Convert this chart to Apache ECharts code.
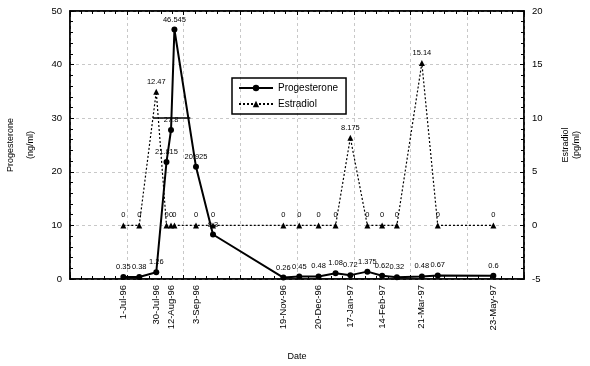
<!DOCTYPE html>
<html>
<head>
<meta charset="utf-8">
<title>Progesterone and Estradiol</title>
<script src="https://cdn.jsdelivr.net/npm/echarts@6/dist/echarts.min.js"></script>
<style>
  html, body { margin: 0; padding: 0; background: #fff; }
  #chart { width: 590px; height: 366px; }
</style>
</head>
<body>
<div id="chart"></div>
<script>
// sampling dates and hormone levels
const sampleDates = [
  '1996-07-01', '1996-07-15', '1996-07-30', '1996-08-08', '1996-08-12',
  '1996-08-15', '1996-09-03', '1996-09-18', '1996-11-19', '1996-12-03',
  '1996-12-20', '1997-01-04', '1997-01-17', '1997-02-01', '1997-02-14',
  '1997-02-27', '1997-03-21', '1997-04-04', '1997-05-23'
]
const progesterone = [
  0.35, 0.38, 1.26, 21.815, 27.8,
  46.545, 20.925, 8.3, 0.26, 0.45,
  0.48, 1.08, 0.72, 1.375, 0.62,
  0.32, 0.48, 0.67, 0.6
]
const estradiol = [
  0, 0, 12.47, 0, 0,
  0, 0, 0, 0, 0,
  0, 0, 8.175, 0, 0,
  0, 15.14, 0, 0
]
// dates printed under the x axis
const tickDates = [
  '1996-07-01', '1996-07-30', '1996-08-12', '1996-09-03', '1996-11-19',
  '1996-12-20', '1997-01-17', '1997-02-14', '1997-03-21', '1997-05-23'
]
// solid bar drawn at estradiol 10
const bar10 = ['1996-07-27', '1996-08-29']

const MONTHS = ['Jan', 'Feb', 'Mar', 'Apr', 'May', 'Jun', 'Jul', 'Aug', 'Sep', 'Oct', 'Nov', 'Dec']

// excel style day number
function serial(s) {
  const p = s.split('-').map(Number)
  return Date.UTC(p[0], p[1] - 1, p[2]) / 86400000 + 25569
}
function dateLabel(v) {
  const d = new Date((v - 25569) * 86400000)
  const yy = String(d.getUTCFullYear()).slice(2)
  return d.getUTCDate() + '-' + MONTHS[d.getUTCMonth()] + '-' + yy
}

const font = 'Liberation Sans, Arial, sans-serif'
const X_MIN = 35200
const X_MAX = 35600

const progData = sampleDates.map((d, i) => [serial(d), progesterone[i]])
const estrData = sampleDates.map((d, i) => [serial(d), estradiol[i]])

const chart = echarts.init(document.getElementById('chart'))

chart.setOption({
  animation: false,
  textStyle: { fontFamily: font, color: '#000' },
  grid: {
    left: 70,
    right: 66,
    top: 11,
    bottom: 87,
    outerBoundsMode: 'none',
    show: true,
    borderColor: '#000',
    borderWidth: 1.5
  },
  legend: {
    orient: 'vertical',
    left: 232,
    top: 78,
    width: 96,
    borderColor: '#000',
    borderWidth: 1.5,
    padding: [5, 8, 5, 6],
    itemGap: 6,
    itemWidth: 34,
    itemHeight: 8,
    textStyle: { fontSize: 10, fontFamily: font, color: '#000' },
    data: ['Progesterone', 'Estradiol']
  },
  xAxis: [
    {
      type: 'value',
      min: X_MIN,
      max: X_MAX,
      interval: 50,
      name: 'Date',
      nameLocation: 'middle',
      nameGap: 73,
      nameTextStyle: { fontSize: 9, fontFamily: font, color: '#000' },
      axisLine: { onZero: false, lineStyle: { color: '#000', width: 1.5 } },
      axisTick: { inside: true, length: 4, lineStyle: { color: '#000' } },
      minorTick: { show: true, splitNumber: 5, length: 3, lineStyle: { color: '#000' } },
      splitLine: { show: true, lineStyle: { color: '#c8c8c8', type: [3, 3], width: 1 } },
      axisLabel: {
        customValues: tickDates.map(serial),
        rotate: 90,
        fontSize: 9.5,
        margin: 6,
        color: '#000',
        formatter: dateLabel
      }
    },
    {
      type: 'value',
      position: 'top',
      min: X_MIN,
      max: X_MAX,
      interval: 50,
      axisLine: { onZero: false, lineStyle: { color: '#000', width: 1.5 } },
      axisTick: { inside: true, length: 4, lineStyle: { color: '#000' } },
      minorTick: { show: true, splitNumber: 5, length: 3, lineStyle: { color: '#000' } },
      splitLine: { show: false },
      axisLabel: { show: false }
    }
  ],
  yAxis: [
    {
      type: 'value',
      min: 0,
      max: 50,
      interval: 10,
      name: 'Progesterone\n(ng/ml)',
      nameLocation: 'middle',
      nameRotate: 90,
      nameGap: 27,
      nameTextStyle: { fontSize: 9, fontFamily: font, color: '#000', lineHeight: 20 },
      axisLine: { show: true, onZero: false, lineStyle: { color: '#000', width: 1.5 } },
      axisTick: { inside: true, length: 4, lineStyle: { color: '#000' } },
      minorTick: { show: true, splitNumber: 5, length: 3, lineStyle: { color: '#000' } },
      splitLine: { show: true, lineStyle: { color: '#c8c8c8', type: [3, 3], width: 1 } },
      axisLabel: { fontSize: 9.5, color: '#000', margin: 8 }
    },
    {
      type: 'value',
      min: -5,
      max: 20,
      interval: 5,
      position: 'right',
      name: 'Estradiol\n(pg/ml)',
      nameLocation: 'middle',
      nameRotate: 90,
      nameGap: 36,
      nameTextStyle: { fontSize: 9, fontFamily: font, color: '#000', lineHeight: 11 },
      axisLine: { show: true, onZero: false, lineStyle: { color: '#000', width: 1.5 } },
      axisTick: { inside: true, length: 4, lineStyle: { color: '#000' } },
      minorTick: { show: true, splitNumber: 5, length: 3, lineStyle: { color: '#000' } },
      splitLine: { show: false },
      axisLabel: { fontSize: 9.5, color: '#000', margin: 8 }
    }
  ],
  series: [
    {
      name: 'Progesterone',
      type: 'line',
      yAxisIndex: 0,
      data: progData,
      symbol: 'circle',
      symbolSize: 6,
      itemStyle: { color: '#000' },
      lineStyle: { color: '#000', width: 2 },
      label: {
        show: true,
        position: 'top',
        distance: 3,
        fontSize: 7.5,
        color: '#000',
        formatter: p => String(p.value[1])
      },
      z: 3
    },
    {
      name: 'Estradiol',
      type: 'line',
      yAxisIndex: 1,
      data: estrData,
      symbol: 'triangle',
      symbolSize: 6,
      itemStyle: { color: '#000' },
      lineStyle: { color: '#000', width: 1.2, type: [2, 2] },
      label: {
        show: true,
        position: 'top',
        distance: 3,
        fontSize: 7.5,
        color: '#000',
        formatter: p => String(p.value[1])
      },
      markLine: {
        silent: true,
        symbol: 'none',
        label: { show: false },
        lineStyle: { color: '#000', type: 'solid', width: 1.5 },
        data: [[{ coord: [serial(bar10[0]), 10] }, { coord: [serial(bar10[1]), 10] }]]
      },
      z: 2
    }
  ]
})
</script>
</body>
</html>
